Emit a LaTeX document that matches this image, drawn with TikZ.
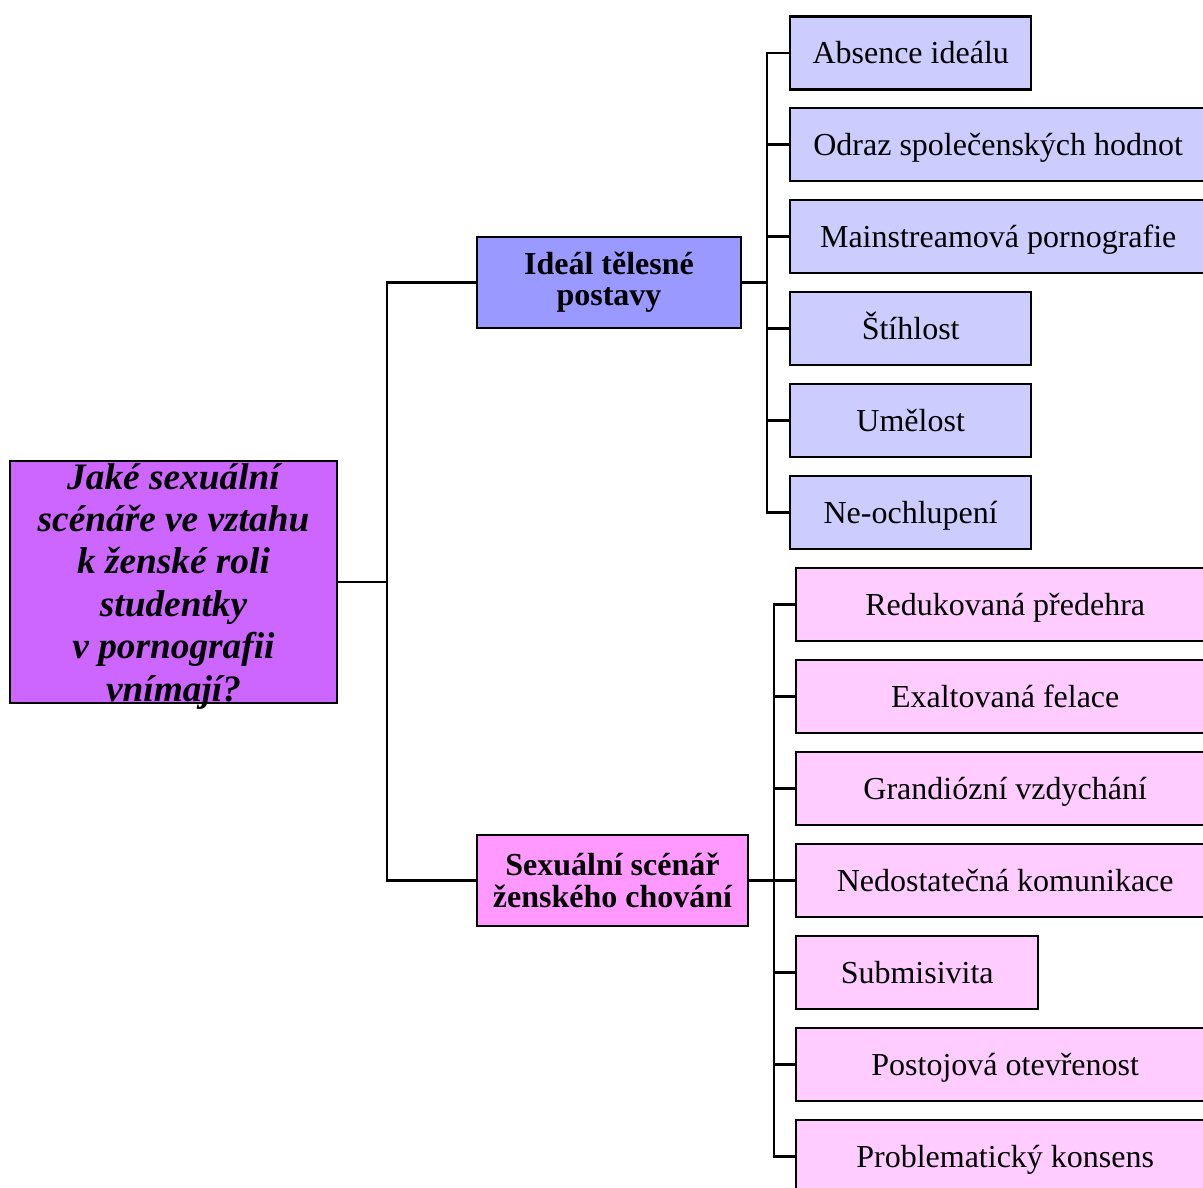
\documentclass[tikz,border=0pt]{standalone}
\usepackage{fontspec}
\setmainfont{Liberation Serif}
\usetikzlibrary{positioning}
\definecolor{rootfill}{HTML}{CC66FF}
\definecolor{idealfill}{HTML}{9999FF}
\definecolor{scenfill}{HTML}{FF99FF}
\definecolor{leafblue}{HTML}{CCCCFF}
\definecolor{leafpink}{HTML}{FFCCFF}
\tikzset{
  box/.style={draw,rectangle,line width=1.8pt,inner sep=0pt},
  conn/.style={line width=1.7pt},
  leaf/.style={box,anchor=west,minimum height=54.75pt,text height=22pt,text depth=5.8pt,font=\fontsize{24}{26}\selectfont},
  leafA/.style={leaf,fill=leafblue},
  leafB/.style={leaf,fill=leafpink}
}
\begin{document}
\begin{tikzpicture}[x=0.75pt,y=-0.75pt]
        \useasboundingbox (0,0) rectangle (1203,1188);
        \clip (0,0) rectangle (1203,1188);
        \node[box,fill=rootfill,minimum width=245.25pt,minimum height=181.5pt] (root) at (173.5,582) {};
        \node[align=center,font=\fontsize{28}{31.8}\bfseries\itshape] (question) at (173.5,586) {Jaké sexuální\\scénáře ve vztahu\\k ženské roli\\studentky\\v pornografii\\vnímají?};
        \node[box,fill=idealfill,minimum width=198pt,minimum height=68.25pt,align=center,font=\fontsize{24}{23}\bfseries] (ideal) at (609,282.5) {Ideál tělesné\\postavy};
        \node[box,fill=scenfill,minimum width=203.25pt,minimum height=68.25pt,align=center,font=\fontsize{24}{24}\bfseries] (scenar) at (612.5,880.5) {Sexuální scénář\\ženského chování};
        \draw[conn] (root.east) -- ++(49,0) |- (ideal.west);
        \draw[conn] (root.east) -- ++(49,0) |- (scenar.west);
        \foreach \y/\t/\w [count=\i] in {53/Absence ideálu/180.75pt,144.5/Odraz společenských hodnot/312pt,236.5/Mainstreamová pornografie/312pt,328.5/Štíhlost/180.75pt,420.5/Umělost/180.75pt,512.5/Ne-ochlupení/180.75pt}{
            \node[leafA,minimum width=\w] (body\i) at (789,\y) {\t};
            \draw[conn] (ideal.east) -- ++(25,0) |- (body\i.west);
        }
        \foreach \y/\t/\w [count=\i] in {604.5/Redukovaná předehra/313.5pt,696.5/Exaltovaná felace/313.5pt,788.5/Grandiózní vzdychání/313.5pt,880.5/Nedostatečná komunikace/313.5pt,972.5/Submisivita/181.5pt,1064.5/Postojová otevřenost/313.5pt,1156.5/Problematický konsens/313.5pt}{
            \node[leafB,minimum width=\w] (script\i) at (795,\y) {\t};
            \draw[conn] (scenar.east) -- ++(25,0) |- (script\i.west);
        }
    \end{tikzpicture}
\end{document}
